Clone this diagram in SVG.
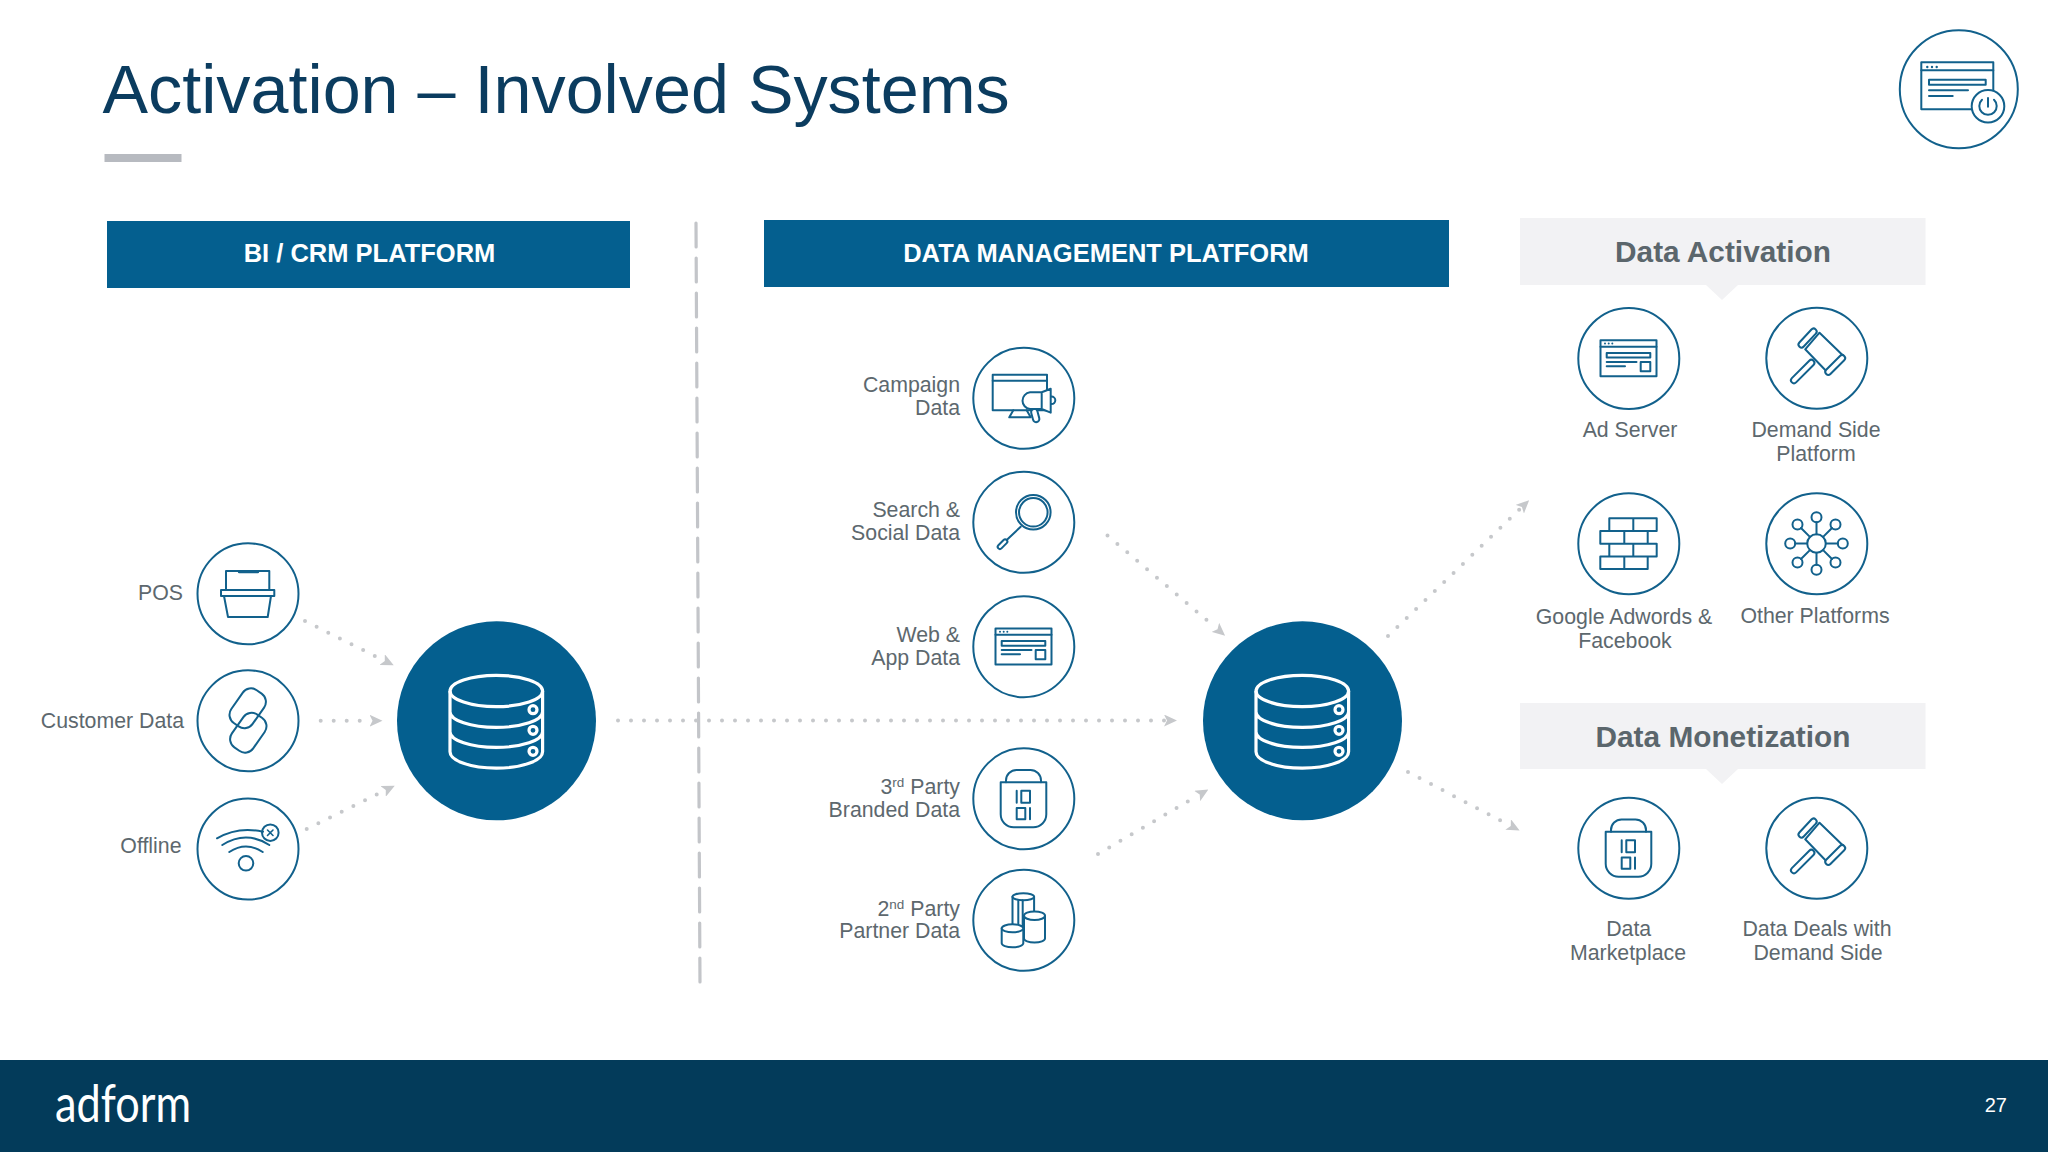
<svg xmlns="http://www.w3.org/2000/svg" width="2048" height="1152" viewBox="0 0 2048 1152">
<style>
text{font-family:"Liberation Sans",Arial,sans-serif}
.t{font-size:21.3px;fill:#5d686e}
.r{text-anchor:end}
.m{text-anchor:middle}
.hb{font-size:25.5px;font-weight:700;fill:#fff;text-anchor:middle}
.hg{font-size:29.8px;font-weight:700;fill:#5b666c;text-anchor:middle}
.sup{font-size:13.5px}
.ring{fill:#fff;stroke:#12618c;stroke-width:2}
.i{fill:none;stroke:#12618c;stroke-width:2;stroke-linejoin:round;stroke-linecap:round}
.w{fill:#fff}
.db{fill:none;stroke:#fff;stroke-width:3.2}
.c{fill:none;stroke:#c6c8cb;stroke-width:4;stroke-linecap:round;stroke-dasharray:0 13}
</style>
<defs>
<marker id="arr" markerUnits="userSpaceOnUse" markerWidth="13" markerHeight="12" viewBox="0 0 13 12" refX="1" refY="6" orient="auto">
<path d="M0,0 L13,6 L0,12 L3,6 Z" fill="#c6c8cb"/>
</marker>
<g id="icon-window">
<g class="i">
<rect x="-28" y="-18" width="56" height="36"/>
<path d="M-28-11.600H28M-21.800 3.600H8M-21.800 7.900H-3.500"/>
<rect x="-21.800" y="-5.400" width="43.600" height="4.700"/>
<rect x="12.200" y="3.600" width="9.600" height="9.300"/>
</g>
<g fill="#12618c"><circle cx="-23.500" cy="-14.700" r="1"/><circle cx="-19.800" cy="-14.700" r="1"/><circle cx="-16.200" cy="-14.700" r="1"/></g>
</g>
<g id="icon-lock" class="i">
<path d="M-17.500-16.200V-18A10.500 10.500 0 0 1-7-28.500H7A10.500 10.500 0 0 1 17.500-18V-16.200"/>
<path d="M-22.800-16.200H22.800V15.800A13 13 0 0 1 9.800 28.800H-9.800A13 13 0 0 1-22.800 15.800Z"/>
<path d="M-6.800-7.800V4.200M6.500 9.500V20.800"/>
<rect x="-2.200" y="-7.800" width="8.700" height="12"/>
<rect x="-6.800" y="9.500" width="8.600" height="11.300"/>
</g>
<g id="icon-hammer" class="i">
<rect x="0" y="-3" width="30.600" height="6" rx="3" transform="translate(-3 2.700) rotate(135)"/>
<path class="w" d="M-11.300-8.700L3-25.300L26-3L9.700 13Z"/>
<rect class="w" x="0" y="-3" width="23.700" height="6" rx="3" transform="translate(-17-11.300) rotate(-47)"/>
<rect class="w" x="0" y="-3" width="25.500" height="6" rx="3" transform="translate(9.700 16) rotate(-45)"/>
</g>
<g id="icon-db">
<ellipse class="db" cx="0" cy="-29.500" rx="46.300" ry="15.700"/>
<path class="db" d="M-46.300-29.500V31.200A46.300 16.500 0 0 0 46.300 31.200V-29.500M-46.300-8.800A46.300 15.700 0 0 0 46.300-8.800M-46.300 11.200A46.300 15.700 0 0 0 46.300 11.200"/>
<circle class="db" cx="36.700" cy="-10.800" r="4"/>
<circle class="db" cx="36.700" cy="9.800" r="4"/>
<circle class="db" cx="36.700" cy="30.800" r="4"/>
</g>
</defs>
<rect width="2048" height="1152" fill="#fff"/>
<g id="title">
<text x="102.500" y="113" font-size="68.300" fill="#0b3c5f">Activation – Involved Systems</text>
<rect x="104.500" y="154" width="77" height="8" fill="#b7bac0"/>
</g>
<g id="corner-icon">
<circle class="ring" cx="1958.800" cy="89.300" r="59"/>
<g class="i">
<rect x="1921.300" y="62.300" width="72" height="47"/>
<path d="M1921.300 70.300H1993.300"/>
<rect x="1929" y="79.700" width="56.700" height="5"/>
<path d="M1929 90.300H1968M1929 96H1952.700"/>
<circle class="w" cx="1988" cy="106.300" r="16.300"/>
<path d="M1982 99.800A8.700 8.700 0 1 0 1994 99.800M1988 98V106.700"/>
</g>
<g fill="#12618c"><circle cx="1927.300" cy="67" r="1.200"/><circle cx="1932" cy="67" r="1.200"/><circle cx="1936.700" cy="67" r="1.200"/></g>
</g>
<g id="divider"><path d="M696 223L700 986" fill="none" stroke="#c3c5c9" stroke-width="3.200" stroke-linecap="round" stroke-dasharray="24 11"/></g>
<g id="connectors">
<path class="c" d="M305 621L383 660" marker-end="url(#arr)"/>
<path class="c" d="M320.700 720.700H370.500" marker-end="url(#arr)"/>
<path class="c" d="M306.700 829L384 791" marker-end="url(#arr)"/>
<path class="c" d="M618 720.500H1165" marker-end="url(#arr)"/>
<path class="c" d="M1107.500 535.500L1216 628" marker-end="url(#arr)"/>
<path class="c" d="M1098 854L1198 795.500" marker-end="url(#arr)"/>
<path class="c" d="M1388 636L1520.500 508.500" marker-end="url(#arr)"/>
<path class="c" d="M1408 772L1509 825" marker-end="url(#arr)"/>
</g>
<g id="header-bi"><rect x="107" y="221" width="523" height="67" fill="#045f8f"/><text class="hb" x="369.500" y="262">BI / CRM PLATFORM</text></g>
<g id="header-dmp"><rect x="764" y="220" width="685" height="67" fill="#045f8f"/><text class="hb" x="1106" y="262">DATA MANAGEMENT PLATFORM</text></g>
<g id="header-activation"><path d="M1520 218H1925.500V285H1738L1722 300L1706 285H1520Z" fill="#f2f2f4"/><text class="hg" x="1723" y="262">Data Activation</text></g>
<g id="header-monetization"><path d="M1520 703H1925.500V769H1738L1722 784L1706 769H1520Z" fill="#f2f2f4"/><text class="hg" x="1723" y="747">Data Monetization</text></g>

<g id="node-pos">
<circle class="ring" cx="248" cy="593.800" r="50.500"/>
<g class="i"><path d="M226 590V571H269.300V590"/><path d="M239.300 571.700H257.700" stroke-width="3"/><rect x="221" y="590" width="53.300" height="6"/><path d="M224 596L228 617H267.700L271 596"/></g>
<text class="t r" x="183" y="600">POS</text>
</g>
<g id="node-customer-data">
<circle class="ring" cx="248" cy="720.800" r="50.500"/>
<g class="i"><rect x="-13" y="-20" width="26" height="40" rx="10" transform="translate(247.700 708.300) rotate(35)"/><rect x="-13" y="-20" width="26" height="40" rx="10" transform="translate(248.300 732.700) rotate(35)"/></g>
<text class="t r" x="184" y="727.500">Customer Data</text>
</g>
<g id="node-offline">
<circle class="ring" cx="248" cy="849" r="50.500"/>
<g class="i"><circle cx="246" cy="863.300" r="7.300"/><path d="M229.300 852Q246 841 262.700 852M222.300 845Q246 830 269.300 845M217 838.300Q238 826 263 831.700"/><circle cx="270.300" cy="832.700" r="8.300"/><path d="M267.500 830L273 835.500M273 830L267.500 835.500" stroke-width="1.600"/></g>
<text class="t r" x="181.500" y="853">Offline</text>
</g>
<g id="node-bi-db"><circle cx="496.500" cy="720.800" r="99.500" fill="#045f8f"/><use href="#icon-db" x="496.300" y="720.500"/></g>

<g id="node-campaign">
<circle class="ring" cx="1023.800" cy="398.300" r="50.500"/>
<g class="i">
<rect x="992.700" y="374.700" width="54.300" height="35.600"/>
<path d="M992.700 380.700H1047M1013.300 410.300L1009.300 417.300H1030.700L1026.700 410.300"/>
<rect class="w" x="-3.200" y="0" width="6.400" height="13.500" rx="3.200" transform="translate(1033.500 409) rotate(-15)"/>
<circle class="w" cx="1051.500" cy="400.300" r="3.800"/>
<path class="w" d="M1050.700 388.700L1041.700 392.300H1030A8.400 8.400 0 0 0 1030 409H1041.700L1050.700 412.700ZM1041.700 392.300V409"/>
</g>
<text class="t r" x="960" y="392">Campaign</text><text class="t r" x="960" y="415">Data</text>
</g>
<g id="node-search">
<circle class="ring" cx="1023.800" cy="522.300" r="50.500"/>
<g class="i">
<circle cx="1033.300" cy="512.300" r="17.300"/><circle cx="1033.300" cy="512.300" r="14.300"/>
<path d="M1020.700 526.700L1006.700 540"/>
<rect x="0" y="-2.200" width="11.800" height="4.400" rx="2.200" transform="translate(1006.700 540) rotate(135)"/>
</g>
<text class="t r" x="960" y="516.700">Search &amp;</text><text class="t r" x="960" y="540">Social Data</text>
</g>
<g id="node-web">
<circle class="ring" cx="1023.800" cy="646.700" r="50.500"/>
<use href="#icon-window" x="1023.500" y="646.400"/>
<text class="t r" x="960" y="642">Web &amp;</text><text class="t r" x="960" y="665">App Data</text>
</g>
<g id="node-third-party">
<circle class="ring" cx="1023.800" cy="798.800" r="50.500"/>
<use href="#icon-lock" x="1023.500" y="798.500"/>
<text class="t r" x="960" y="794">3<tspan class="sup" dy="-7">rd</tspan><tspan dy="7"> Party</tspan></text><text class="t r" x="960" y="816.700">Branded Data</text>
</g>
<g id="node-second-party">
<circle class="ring" cx="1023.800" cy="920.300" r="50.500"/>
<g class="i">
<path class="w" d="M1012.500 896.700V926H1034.100V896.700"/><ellipse class="w" cx="1023.300" cy="896.700" rx="10.800" ry="3.500"/>
<path d="M1018.300 900V926M1022.700 900.200V926"/>
<path class="w" d="M1024 915.700V938.500A10.500 4 0 0 0 1045 938.500V915.700Z"/><ellipse class="w" cx="1034.500" cy="915.700" rx="10.500" ry="4.300"/>
<path class="w" d="M1001.700 928.300V943.300A10.800 4 0 0 0 1023.300 943.300V928.300Z"/><ellipse class="w" cx="1012.500" cy="928.300" rx="10.800" ry="4"/>
</g>
<text class="t r" x="960" y="915.700">2<tspan class="sup" dy="-7">nd</tspan><tspan dy="7"> Party</tspan></text><text class="t r" x="960" y="938.300">Partner Data</text>
</g>
<g id="node-dmp-db"><circle cx="1302.500" cy="720.800" r="99.500" fill="#045f8f"/><use href="#icon-db" x="1302.300" y="720.500"/></g>

<g id="node-ad-server">
<circle class="ring" cx="1628.800" cy="358.500" r="50.500"/>
<use href="#icon-window" x="1628.500" y="358.300"/>
<text class="t m" x="1630" y="437">Ad Server</text>
</g>
<g id="node-dsp">
<circle class="ring" cx="1816.800" cy="358.300" r="50.500"/>
<use href="#icon-hammer" x="1816.500" y="358"/>
<text class="t m" x="1816" y="437">Demand Side</text><text class="t m" x="1816" y="460.700">Platform</text>
</g>
<g id="node-google">
<circle class="ring" cx="1628.800" cy="543.800" r="50.500"/>
<g class="i" transform="translate(1628.500 543.500)">
<path d="M-19.200-25.200H28.200V-12.500H-19.200ZM4.800-25.200V-12.500M-28.200-12.500H19.200V0.200H-28.200ZM-4.200-12.500V0.200M-19.200 0.200H28.200V12.900H-19.200ZM4.800 0.200V12.900M-28.200 12.900H19.200V25.500H-28.200ZM-4.200 12.900V25.500"/>
</g>
<text class="t m" x="1624" y="624.300">Google Adwords &amp;</text><text class="t m" x="1625" y="648">Facebook</text>
</g>
<g id="node-other">
<circle class="ring" cx="1816.800" cy="543.800" r="50.500"/>
<g class="i" transform="translate(1816.500 543.500)">
<circle r="9.300"/>
<path d="M0-9.300V-21.300M0 9.300V21.300M-9.300 0H-21.300M9.300 0H21.300M-6.600-6.600L-15.500-15.500M6.600-6.600L15.500-15.500M-6.600 6.600L-15.500 15.500M6.600 6.600L15.500 15.500"/>
<circle cy="-26.300" r="5"/><circle cy="26.300" r="5"/><circle cx="-26.300" r="5"/><circle cx="26.300" r="5"/>
<circle cx="-19" cy="-19" r="5"/><circle cx="19" cy="-19" r="5"/><circle cx="-19" cy="19" r="5"/><circle cx="19" cy="19" r="5"/>
</g>
<text class="t m" x="1815" y="622.500">Other Platforms</text>
</g>
<g id="node-marketplace">
<circle class="ring" cx="1628.800" cy="848.300" r="50.500"/>
<use href="#icon-lock" x="1628.500" y="848"/>
<text class="t m" x="1628.700" y="936">Data</text><text class="t m" x="1628" y="959.700">Marketplace</text>
</g>
<g id="node-data-deals">
<circle class="ring" cx="1816.800" cy="848.300" r="50.500"/>
<use href="#icon-hammer" x="1816.500" y="848"/>
<text class="t m" x="1817" y="936">Data Deals with</text><text class="t m" x="1818" y="959.700">Demand Side</text>
</g>
<g id="footer">
<rect x="0" y="1060" width="2048" height="92" fill="#033b5a"/>
<text x="55" y="1122" font-size="52" fill="#fff" textLength="136" lengthAdjust="spacingAndGlyphs" style="font-family:Lato,'Liberation Sans',sans-serif">adform</text>
<text x="2007" y="1112" font-size="20" fill="#fff" text-anchor="end">27</text>
</g>
</svg>
